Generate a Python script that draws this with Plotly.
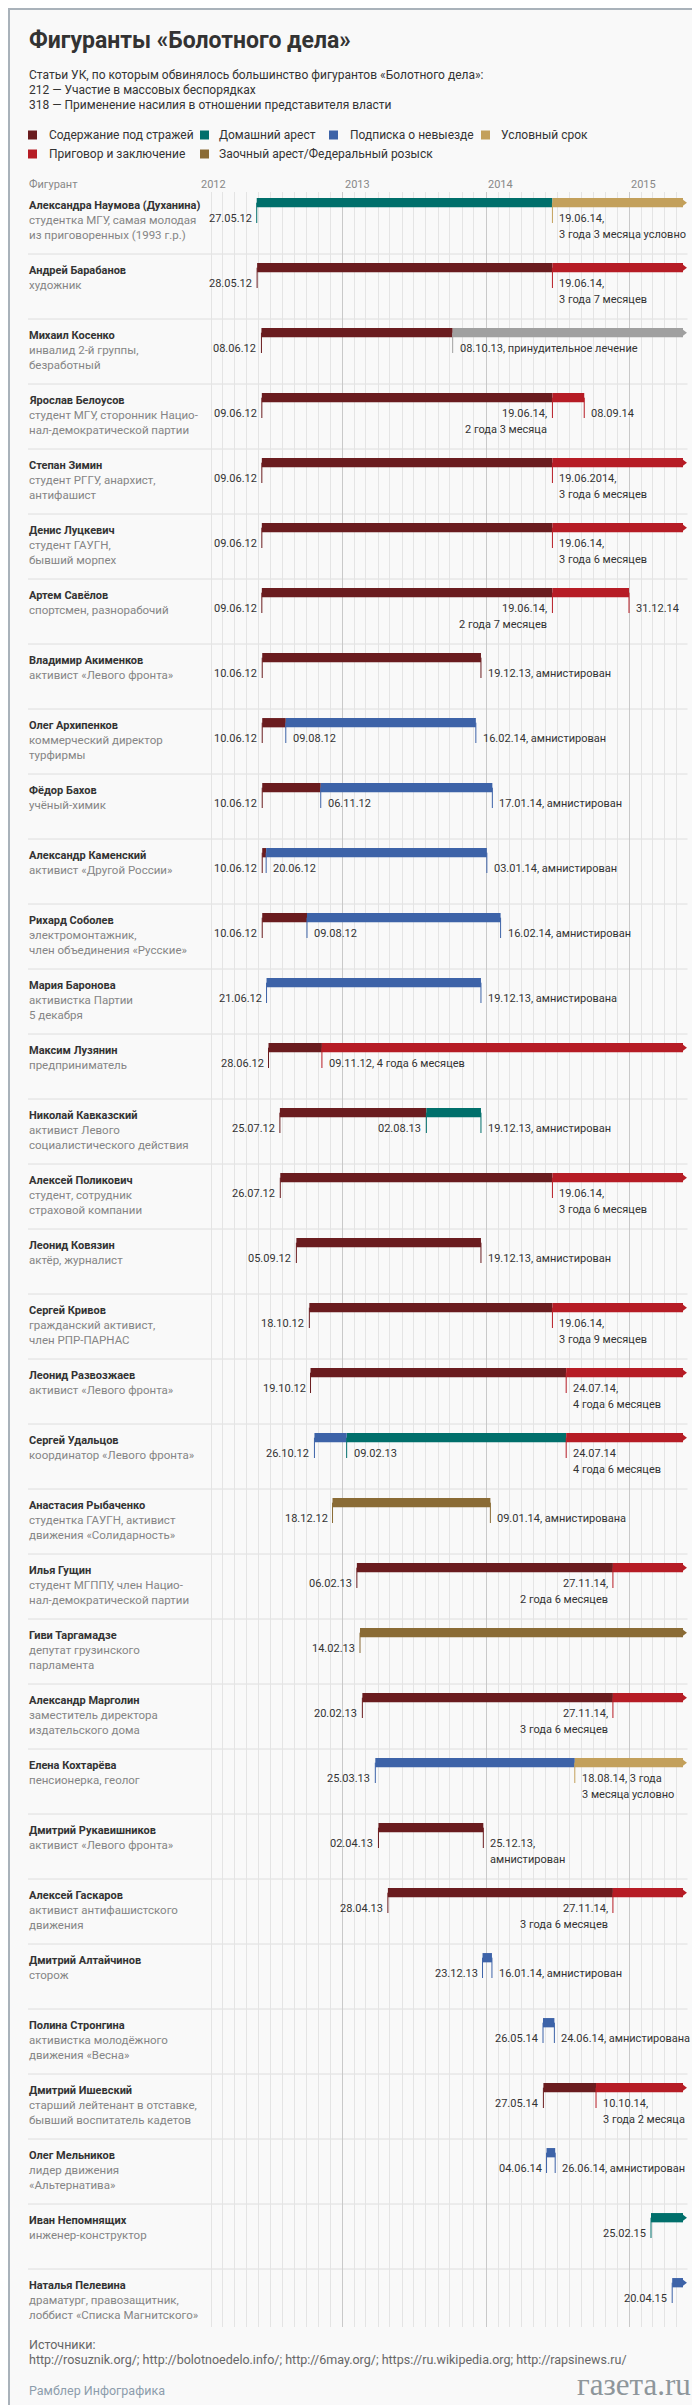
import pandas as pd
import plotly.graph_objects as go

# ---------------- DATA ----------------
TITLE = "Фигуранты «Болотного дела»"
INTRO = [
    "Статьи УК, по которым обвинялось большинство фигурантов «Болотного дела»:",
    "212 — Участие в массовых беспорядках",
    "318 — Применение насилия в отношении представителя власти",
]
HEADER_LABEL = "Фигурант"
years = [2012, 2013, 2014, 2015]

status_labels = {
    "custody": "Содержание под стражей",
    "house": "Домашний арест",
    "bail": "Подписка о невыезде",
    "suspended": "Условный срок",
    "prison": "Приговор и заключение",
    "wanted": "Заочный арест/Федеральный розыск",
    "treatment": "Принудительное лечение",
}
legend_order = ["custody", "house", "bail", "suspended", "prison", "wanted"]

names = [
    "Александра Наумова (Духанина)", "Андрей Барабанов", "Михаил Косенко", "Ярослав Белоусов",
    "Степан Зимин", "Денис Луцкевич", "Артем Савёлов", "Владимир Акименков", "Олег Архипенков",
    "Фёдор Бахов", "Александр Каменский", "Рихард Соболев", "Мария Баронова", "Максим Лузянин",
    "Николай Кавказский", "Алексей Поликович", "Леонид Ковязин", "Сергей Кривов",
    "Леонид Развозжаев", "Сергей Удальцов", "Анастасия Рыбаченко", "Илья Гущин",
    "Гиви Таргамадзе", "Александр Марголин", "Елена Кохтарёва", "Дмитрий Рукавишников",
    "Алексей Гаскаров", "Дмитрий Алтайчинов", "Полина Стронгина", "Дмитрий Ишевский",
    "Олег Мельников", "Иван Непомнящих", "Наталья Пелевина",
]
subtitles = [
    ["студентка МГУ, самая молодая", "из приговоренных (1993 г.р.)"],
    ["художник"],
    ["инвалид 2-й группы,", "безработный"],
    ["студент МГУ, сторонник Нацио-", "нал-демократической партии"],
    ["студент РГГУ, анархист,", "антифашист"],
    ["студент ГАУГН,", "бывший морпех"],
    ["спортсмен, разнорабочий"],
    ["активист «Левого фронта»"],
    ["коммерческий директор", "турфирмы"],
    ["учёный-химик"],
    ["активист «Другой России»"],
    ["электромонтажник,", "член объединения «Русские»"],
    ["активистка Партии", "5 декабря"],
    ["предприниматель"],
    ["активист Левого", "социалистического действия"],
    ["студент, сотрудник", "страховой компании"],
    ["актёр, журналист"],
    ["гражданский активист,", "член РПР-ПАРНАС"],
    ["активист «Левого фронта»"],
    ["координатор «Левого фронта»"],
    ["студентка ГАУГН, активист", "движения «Солидарность»"],
    ["студент МГППУ, член Нацио-", "нал-демократической партии"],
    ["депутат грузинского", "парламента"],
    ["заместитель директора", "издательского дома"],
    ["пенсионерка, геолог"],
    ["активист «Левого фронта»"],
    ["активист антифашистского", "движения"],
    ["сторож"],
    ["активистка молодёжного", "движения «Весна»"],
    ["старший лейтенант в отставке,", "бывший воспитатель кадетов"],
    ["лидер движения", "«Альтернатива»"],
    ["инженер-конструктор"],
    ["драматург, правозащитник,", "лоббист «Списка Магнитского»"],
]
# start date of every period (as drawn)
boundaries = [
    ["2012-05-27", "2014-06-19"], ["2012-05-28", "2014-06-19"], ["2012-06-08", "2013-10-08"],
    ["2012-06-09", "2014-06-19"], ["2012-06-09", "2014-06-19"], ["2012-06-09", "2014-06-19"],
    ["2012-06-09", "2014-06-19"], ["2012-06-10"], ["2012-06-10", "2012-08-09"],
    ["2012-06-10", "2012-11-06"], ["2012-06-10", "2012-06-20"], ["2012-06-10", "2012-10-02"],
    ["2012-06-21"], ["2012-06-26", "2012-11-09"], ["2012-07-25", "2013-08-02"],
    ["2012-07-26", "2014-06-19"], ["2012-09-05"], ["2012-10-08", "2014-06-19"],
    ["2012-10-11", "2014-07-24"], ["2012-10-21", "2013-01-11", "2014-07-24"], ["2012-12-06"],
    ["2013-02-06", "2014-11-20"], ["2013-02-14"], ["2013-02-20", "2014-11-20"],
    ["2013-03-25", "2014-08-15"], ["2013-04-02"], ["2013-04-26", "2014-11-20"],
    ["2013-12-23"], ["2014-05-26"], ["2014-05-27", "2014-10-08"], ["2014-06-04"],
    ["2015-02-25"], ["2015-04-20"],
]
statuses = [
    ["house", "suspended"], ["custody", "prison"], ["custody", "treatment"], ["custody", "prison"],
    ["custody", "prison"], ["custody", "prison"], ["custody", "prison"], ["custody"],
    ["custody", "bail"], ["custody", "bail"], ["custody", "bail"], ["custody", "bail"], ["bail"],
    ["custody", "prison"], ["custody", "house"], ["custody", "prison"], ["custody"],
    ["custody", "prison"], ["custody", "prison"], ["bail", "house", "prison"], ["wanted"],
    ["custody", "prison"], ["wanted"], ["custody", "prison"], ["bail", "suspended"], ["custody"],
    ["custody", "prison"], ["bail"], ["bail"], ["custody", "prison"], ["bail"], ["house"], ["bail"],
]
# end of the last period (None = still ongoing)
end_dates = [
    None, None, None, "2014-09-08", None, None, "2014-12-31", "2013-12-19", "2013-12-06",
    "2014-01-17", "2014-01-03", "2014-02-07", "2013-12-19", None, "2013-12-19", None,
    "2013-12-19", None, None, None, "2014-01-12", None, None, None, None, "2013-12-25", None,
    "2014-01-16", "2014-06-24", None, "2014-06-26", None, None,
]
# (boundary index, "b" = before tick / "a" = after tick, text lines)
date_labels = [
    [(0, "b", ["27.05.12"]), (1, "a", ["19.06.14,", "3 года 3 месяца условно"])],
    [(0, "b", ["28.05.12"]), (1, "a", ["19.06.14,", "3 года 7 месяцев"])],
    [(0, "b", ["08.06.12"]), (1, "a", ["08.10.13, принудительное лечение"])],
    [(0, "b", ["09.06.12"]), (1, "b", ["19.06.14,", "2 года 3 месяца"]), (2, "a", ["08.09.14"])],
    [(0, "b", ["09.06.12"]), (1, "a", ["19.06.2014,", "3 года 6 месяцев"])],
    [(0, "b", ["09.06.12"]), (1, "a", ["19.06.14,", "3 года 6 месяцев"])],
    [(0, "b", ["09.06.12"]), (1, "b", ["19.06.14,", "2 года 7 месяцев"]), (2, "a", ["31.12.14"])],
    [(0, "b", ["10.06.12"]), (1, "a", ["19.12.13, амнистирован"])],
    [(0, "b", ["10.06.12"]), (1, "a", ["09.08.12"]), (2, "a", ["16.02.14, амнистирован"])],
    [(0, "b", ["10.06.12"]), (1, "a", ["06.11.12"]), (2, "a", ["17.01.14, амнистирован"])],
    [(0, "b", ["10.06.12"]), (1, "a", ["20.06.12"]), (2, "a", ["03.01.14, амнистирован"])],
    [(0, "b", ["10.06.12"]), (1, "a", ["09.08.12"]), (2, "a", ["16.02.14, амнистирован"])],
    [(0, "b", ["21.06.12"]), (1, "a", ["19.12.13, амнистирована"])],
    [(0, "b", ["28.06.12"]), (1, "a", ["09.11.12, 4 года 6 месяцев"])],
    [(0, "b", ["25.07.12"]), (1, "b", ["02.08.13"]), (2, "a", ["19.12.13, амнистирован"])],
    [(0, "b", ["26.07.12"]), (1, "a", ["19.06.14,", "3 года 6 месяцев"])],
    [(0, "b", ["05.09.12"]), (1, "a", ["19.12.13, амнистирован"])],
    [(0, "b", ["18.10.12"]), (1, "a", ["19.06.14,", "3 года 9 месяцев"])],
    [(0, "b", ["19.10.12"]), (1, "a", ["24.07.14,", "4 года 6 месяцев"])],
    [(0, "b", ["26.10.12"]), (1, "a", ["09.02.13"]), (2, "a", ["24.07.14", "4 года 6 месяцев"])],
    [(0, "b", ["18.12.12"]), (1, "a", ["09.01.14, амнистирована"])],
    [(0, "b", ["06.02.13"]), (1, "b", ["27.11.14,", "2 года 6 месяцев"])],
    [(0, "b", ["14.02.13"])],
    [(0, "b", ["20.02.13"]), (1, "b", ["27.11.14,", "3 года 6 месяцев"])],
    [(0, "b", ["25.03.13"]), (1, "a", ["18.08.14, 3 года", "3 месяца условно"])],
    [(0, "b", ["02.04.13"]), (1, "a", ["25.12.13,", "амнистирован"])],
    [(0, "b", ["28.04.13"]), (1, "b", ["27.11.14,", "3 года 6 месяцев"])],
    [(0, "b", ["23.12.13"]), (1, "a", ["16.01.14, амнистирован"])],
    [(0, "b", ["26.05.14"]), (1, "a", ["24.06.14, амнистирована"])],
    [(0, "b", ["27.05.14"]), (1, "a", ["10.10.14,", "3 года 2 месяца"])],
    [(0, "b", ["04.06.14"]), (1, "a", ["26.06.14, амнистирован"])],
    [(0, "b", ["25.02.15"])],
    [(0, "b", ["20.04.15"])],
]
SOURCES_TITLE = "Источники:"
SOURCES = "http://rosuznik.org/; http://bolotnoedelo.info/; http://6may.org/; https://ru.wikipedia.org; http://rapsinews.ru/"
CREDIT = "Рамблер Инфографика"
LOGO = "газета.ru"

# ---------------- STYLE / LAYOUT ----------------
status_colors = {
    "custody": "#6a1c1f", "house": "#006f6b", "bail": "#3d63a8", "suspended": "#c3a05b",
    "prison": "#b61c25", "wanted": "#8a6b35", "treatment": "#a0a0a0",
}
FONT = "Roboto, 'Noto Sans', sans-serif"
BG = "#f9f9f9"
W, H = 700, 2405
ROW_TOP0, PITCH = 181.0, 65.0
GRID_TOP, GRID_BOT = 184.0, 2319.0
PX_2012, PX_2015, PX_RIGHT, PX_ARROW = 191.0, 621.4, 680.0, 675.0
BAR_C, BAR_H = 13.7 / PITCH, 9.3 / PITCH
TICK_Y0, TICK_Y1 = 13.7 / PITCH, 34.0 / PITCH
LINE1, LINE2 = 29.8 / PITCH, 45.6 / PITCH
NAME_Y, SUB1_Y, SUB2_Y = 16.6 / PITCH, 31.0 / PITCH, 46.0 / PITCH

T2012, T2015 = pd.Timestamp("2012-01-01"), pd.Timestamp("2015-01-01")


def px_to_date(p):
    return T2012 + (p - PX_2012) / (PX_2015 - PX_2012) * (T2015 - T2012)


def py(p):
    return 1 - p / H


X_START = px_to_date(PX_2012 - 1)
X_END = px_to_date(PX_RIGHT)
ARROW_END = px_to_date(PX_ARROW)

fig = go.Figure()

bars = {k: dict(y=[], base=[], x=[]) for k in status_colors}
ticks = {k: dict(x=[], y=[]) for k in status_colors}
arrows = {k: dict(x=[], y=[]) for k in status_colors}
annotations = []


def txt(text, x, y, xref="paper", yref="paper", anchor="left", size=11, color="#333",
        xshift=0, family=FONT):
    annotations.append(dict(text=text, x=x, y=y, xref=xref, yref=yref, xanchor=anchor,
                            yanchor="middle", showarrow=False, borderpad=0, xshift=xshift,
                            font=dict(family=family, size=size, color=color)))


for i, (b, s, e) in enumerate(zip(boundaries, statuses, end_dates)):
    pts = [pd.Timestamp(d) for d in b]
    stop = pd.Timestamp(e) if e else ARROW_END
    edges = pts + [stop]
    for k, st in enumerate(s):
        bars[st]["y"].append(i + BAR_C)
        bars[st]["base"].append(edges[k].isoformat())
        bars[st]["x"].append((edges[k + 1] - edges[k]).total_seconds() * 1000)
        ticks[st]["x"] += [edges[k].isoformat(), edges[k].isoformat(), None]
        ticks[st]["y"] += [i + TICK_Y0, i + TICK_Y1, None]
    if e:
        ticks[s[-1]]["x"] += [stop.isoformat(), stop.isoformat(), None]
        ticks[s[-1]]["y"] += [i + TICK_Y0, i + TICK_Y1, None]
    else:
        arrows[s[-1]]["x"].append(stop.isoformat())
        arrows[s[-1]]["y"].append(i + BAR_C)
    # date labels
    for idx, side, lines in date_labels[i]:
        xd = edges[idx].isoformat()
        for ln, yy in zip(lines, [LINE1, LINE2]):
            if side == "b":
                txt(ln, xd, i + yy, xref="x", yref="y", anchor="right", xshift=-4)
            else:
                txt(ln, xd, i + yy, xref="x", yref="y", anchor="left", xshift=6)
    # name + description
    txt("<b>" + names[i] + "</b>", 20 / W, i + NAME_Y, yref="y", size=11, color="#333")
    for ln, yy in zip(subtitles[i], [SUB1_Y, SUB2_Y]):
        txt(ln, 20 / W, i + yy, yref="y", size=11.5, color="#858585")

for st, col in status_colors.items():
    if bars[st]["y"]:
        fig.add_trace(go.Bar(orientation="h", y=bars[st]["y"], base=bars[st]["base"],
                             x=bars[st]["x"], width=BAR_H, marker=dict(color=col, line_width=0),
                             hoverinfo="skip", name=status_labels[st]))
    if ticks[st]["x"]:
        fig.add_trace(go.Scatter(x=ticks[st]["x"], y=ticks[st]["y"], mode="lines",
                                 line=dict(color=col, width=1), hoverinfo="skip"))
    if arrows[st]["x"]:
        fig.add_trace(go.Scatter(x=arrows[st]["x"], y=arrows[st]["y"], mode="markers",
                                 marker=dict(symbol="triangle-right", size=7.9, color=col,
                                             line_width=0),
                                 cliponaxis=False, hoverinfo="skip"))

shapes = []
# row separators
for i in range(1, len(names)):
    shapes.append(dict(type="line", xref="paper", yref="y", x0=20 / W, x1=679.5 / W, y0=i, y1=i,
                       line=dict(color="#dedede", width=1), layer="below"))

# title / intro
txt("<b>" + TITLE + "</b>", 20 / W, py(32), size=23, color="#333")
for ln, yy in zip(INTRO, [66.7, 81.5, 96.7]):
    txt(ln, 20 / W, py(yy), size=12, color="#333")

# legend
legend_pos = [(20, 40, 127), (192, 210, 127), (321, 341, 127), (473, 492, 127),
              (20, 40, 146), (192, 210, 146)]
for st, (sx, tx, cy) in zip(legend_order, legend_pos):
    shapes.append(dict(type="rect", xref="paper", yref="paper", x0=sx / W, x1=(sx + 9) / W,
                       y0=py(cy + 4.5), y1=py(cy - 4.5), fillcolor=status_colors[st],
                       line_width=0))
    txt(status_labels[st], tx / W, py(cy), size=12, color="#333")

# header
txt(HEADER_LABEL, 20 / W, py(177), size=11, color="#888")
for yr in years:
    txt(str(yr), f"{yr}-01-01", py(177), xref="x", size=11, color="#888", xshift=1)

# footer
txt(SOURCES_TITLE, 20 / W, py(2336), size=12.5, color="#666")
txt(SOURCES, 20 / W, py(2351.5), size=12.5, color="#666")
txt(CREDIT, 20 / W, py(2382), size=12.5, color="#8d9dac")
txt(LOGO, 684 / W, py(2376), anchor="right", size=31, color="#8e969b",
    family="'Liberation Serif', 'DejaVu Serif', serif")

# frame
shapes.append(dict(type="rect", xref="paper", yref="paper", x0=1 / W, x1=(W - 1) / W,
                   y0=1 / H, y1=(H - 1) / H, line=dict(color="#a9b2ba", width=2)))

fig.update_layout(
    width=W, height=H, autosize=False, margin=dict(l=0, r=0, t=0, b=0),
    paper_bgcolor=BG, plot_bgcolor=BG, barmode="overlay", showlegend=False,
    font=dict(family=FONT, size=11, color="#333"),
    annotations=annotations, shapes=shapes,
    xaxis=dict(type="date", domain=[(PX_2012 - 1) / W, PX_RIGHT / W],
               range=[X_START.isoformat(), X_END.isoformat()],
               tickmode="linear", tick0="2012-01-01", dtick="M12",
               showticklabels=False, ticks="", showgrid=True, gridcolor="#c9c9c9", gridwidth=1,
               minor=dict(dtick="M1", tick0="2012-01-01", showgrid=True, gridcolor="#e4e4e4",
                          gridwidth=1, ticks=""),
               zeroline=False, showline=False, fixedrange=True),
    yaxis=dict(domain=[py(GRID_BOT), py(GRID_TOP)],
               range=[(GRID_BOT - ROW_TOP0) / PITCH, (GRID_TOP - ROW_TOP0) / PITCH],
               showgrid=False, zeroline=False, showticklabels=False, ticks="", fixedrange=True),
)

fig.write_html("out.html")
